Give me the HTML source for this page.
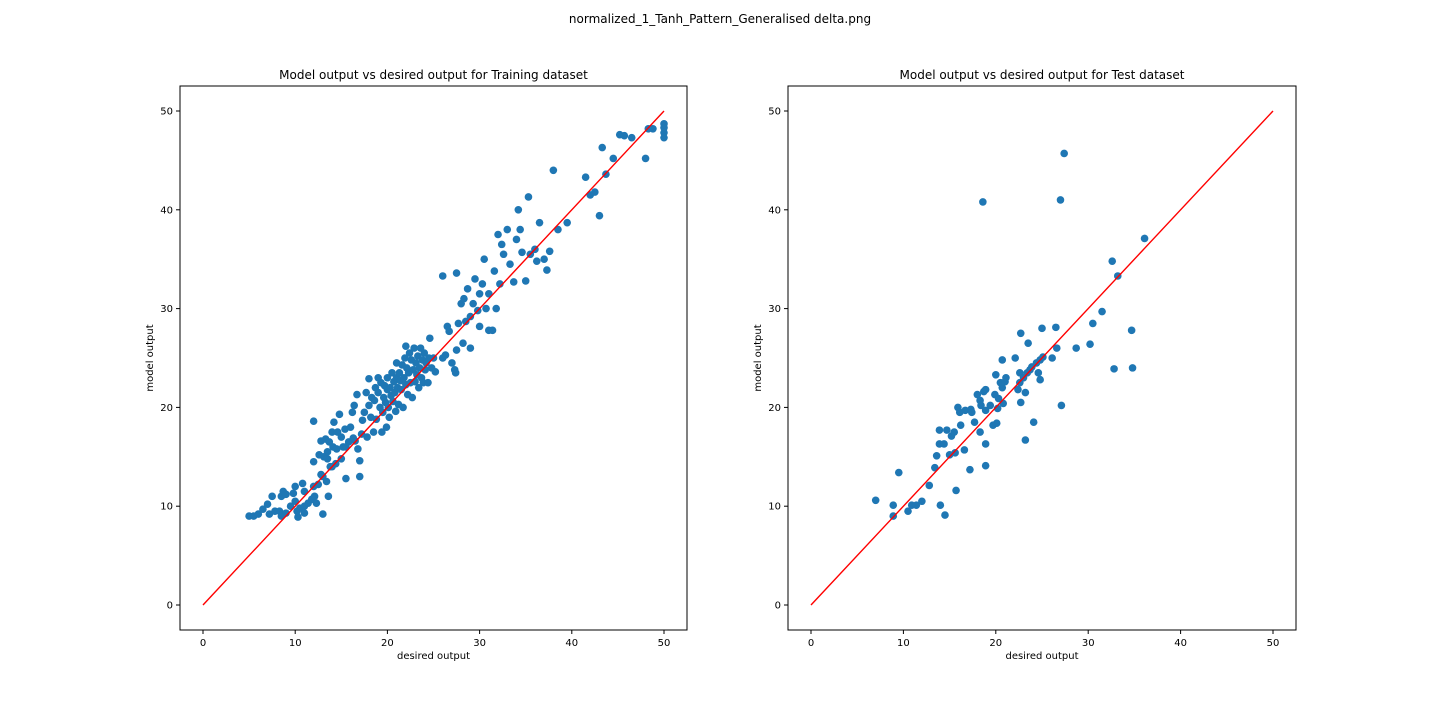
<!DOCTYPE html>
<html><head><meta charset="utf-8"><style>
body{margin:0;background:#fff;}
svg{display:block;font-family:"DejaVu Sans","Liberation Sans",sans-serif;}
</style></head><body>
<svg id="fig" width="1440" height="720" viewBox="0 0 1440 720">
<rect width="1440" height="720" fill="#fff"/>
<text x="720" y="23" font-size="12" text-anchor="middle">normalized_1_Tanh_Pattern_Generalised delta.png</text>
</svg>
<script>
const trainPoints=[[5,9],[5.5,9],[6,9.2],[6.5,9.7],[7,10.2],[7.2,9.2],[7.5,11],[7.8,9.5],[8.5,11],[8.7,11.5],[8.3,9.5],[8.6,9.2],[9,9.3],[9.5,10],[9.8,11.3],[10,12],[10.2,9.5],[10.3,8.9],[10.5,9.8],[10.8,12.3],[11,11.5],[11,9.3],[11.4,10.3],[11.8,10.7],[12,14.5],[12,18.6],[12.1,11],[12.3,10.3],[12.5,12.2],[12.6,15.2],[12.8,16.6],[13,13],[13,9.2],[13.1,15],[13.3,16.8],[13.4,12.5],[13.5,15.5],[13.6,11],[13.7,16.5],[13.8,14],[14,17.5],[14.1,16],[14.2,18.5],[14.4,14.3],[14.5,15.8],[14.6,17.5],[14.8,19.3],[15,14.8],[15.2,16],[15.4,17.8],[15.5,12.8],[15.8,16.5],[16,18],[16.2,19.5],[16.4,20.2],[16.5,16.6],[16.7,21.3],[16.8,15.8],[17,13],[17,14.6],[17.2,17.3],[17.3,18.7],[17.5,19.5],[17.7,21.5],[17.8,17],[18,20.2],[18,22.9],[18.2,19],[18.3,21],[18.5,17.5],[18.6,20.7],[18.7,22],[18.8,18.8],[19,21.5],[19,23],[19.2,20],[19.3,22.5],[19.4,17.5],[19.5,19.5],[19.6,21],[19.7,22.2],[19.8,20.5],[19.9,18],[20,21.8],[20,23],[20.1,20],[20.2,19],[20.3,22],[20.4,21.2],[20.5,23.5],[20.6,20.6],[20.7,22.6],[20.8,21.5],[20.9,19.6],[21,23],[21,24.5],[21.1,22],[21.2,20.3],[21.3,23.5],[21.4,22.7],[21.5,21.8],[21.6,24.3],[21.7,20],[21.8,23],[21.9,25],[22,22.3],[22,26.2],[22.1,24],[22.2,21.3],[22.3,23.5],[22.4,25.5],[22.5,22.5],[22.6,24.8],[22.7,21],[22.8,23.8],[22.9,26],[23,22.6],[23.1,24.5],[23.2,23.3],[23.3,25.2],[23.4,22],[23.5,24],[23.6,26],[23.7,23],[23.8,24.8],[23.9,22.5],[24,25.5],[24.1,23.8],[24.2,24.5],[24.4,22.5],[24.5,25],[24.6,27],[24.8,24],[25,25],[25.2,23.6],[26,25],[26.3,25.3],[26.5,28.2],[26.7,27.7],[27,24.5],[27.3,23.8],[27.4,23.5],[27.5,25.8],[27.7,28.5],[28,30.5],[28.2,26.5],[28.3,31],[28.5,28.7],[28.7,32],[29,29.2],[29,26],[29.3,30.5],[29.5,33],[29.8,29.8],[30,28.2],[30,31.5],[30.3,32.5],[30.5,35],[30.7,30],[31,31.5],[31,27.8],[31.4,27.8],[31.6,33.8],[31.8,30],[32,37.5],[32.2,32.5],[32.4,36.5],[32.6,35.5],[33,38],[33.3,34.5],[33.7,32.7],[34,37],[34.2,40],[34.4,38],[34.6,35.7],[35,32.8],[35.3,41.3],[35.5,35.5],[36,36],[36.2,34.8],[36.5,38.7],[37,35],[37.3,33.9],[37.6,35.8],[38,44],[38.5,38],[39.5,38.7],[41.5,43.3],[42,41.5],[42.5,41.8],[43,39.4],[43.3,46.3],[43.7,43.6],[44.5,45.2],[45.2,47.6],[45.7,47.5],[46.5,47.3],[48,45.2],[48.3,48.2],[48.8,48.2],[50,48.7],[50,48.3],[50,47.8],[50,47.3],[15.5,16],[15,17],[16.3,16.9],[14,14],[12,12],[9,11.2],[10,10.5],[26,33.3],[27.5,33.6],[8.5,9],[11,10],[12.8,13.2],[13.5,14.8]];
const testPoints=[[7,10.6],[8.9,10.1],[8.9,9],[9.5,13.4],[10.5,9.5],[10.9,10.1],[11.4,10.1],[12,10.5],[12.8,12.1],[13.4,13.9],[13.6,15.1],[13.9,17.7],[13.9,16.3],[14,10.1],[14.4,16.3],[14.5,9.1],[14.7,17.7],[15,15.2],[15.2,17.1],[15.5,17.5],[15.6,15.4],[15.7,11.6],[15.9,20],[16.1,19.5],[16.2,18.2],[16.7,19.7],[16.6,15.7],[17.2,13.7],[17.3,19.8],[17.4,19.5],[17.7,18.5],[18,21.3],[18.3,17.5],[18.3,20.7],[18.4,20.2],[18.6,40.8],[18.7,21.6],[18.9,21.8],[18.9,19.7],[18.9,16.3],[18.9,14.1],[19.4,20.2],[19.7,18.2],[19.9,21.3],[20,23.3],[20.1,18.4],[20.2,19.9],[20.3,20.9],[20.5,22.5],[20.7,22],[20.7,24.8],[20.8,20.4],[21,22.6],[21.1,23],[22.1,25],[22.4,21.8],[22.6,22.5],[22.6,23.5],[22.7,27.5],[22.7,20.5],[23,23],[23.2,21.5],[23.2,16.7],[23.4,23.5],[23.5,26.5],[23.7,23.8],[23.9,24.1],[24.1,18.5],[24.4,24.5],[24.6,23.5],[24.8,24.8],[24.8,22.8],[25,28],[25.1,25.1],[26.1,25],[26.5,28.1],[26.6,26],[27,41],[27.4,45.7],[27.1,20.2],[28.7,26],[30.2,26.4],[30.5,28.5],[31.5,29.7],[32.6,34.8],[32.8,23.9],[33.2,33.3],[34.7,27.8],[34.8,24],[36.1,37.1]];
const xTicks=[0,10,20,30,40,50];
const yTicks=[0,10,20,30,40,50];
const lineX=[0,50];

const svg=document.getElementById('fig');
const NS='http://www.w3.org/2000/svg';
function mk(t,a){const e=document.createElementNS(NS,t);for(const k in a)e.setAttribute(k,a[k]);svg.appendChild(e);return e;}
function panel(left,right,x0px,x50px,pts,title,key){
  const top=86,bottom=630;
  const sx=v=>x0px+(x50px-x0px)*v/50;
  const sy=v=>605-(605-111)*v/50;
  const t=mk('text',{x:(left+right)/2,y:79,'font-size':12,'text-anchor':'middle'});t.textContent=title;
  
  
  pts.forEach(p=>{const c=mk('circle',{cx:sx(p[0]),cy:sy(p[1]),r:3.8,fill:'#1f77b4'});
    
    });
  const l=mk('line',{x1:sx(lineX[0]),y1:sy(lineX[0]),x2:sx(lineX[1]),y2:sy(lineX[1]),stroke:'red','stroke-width':1.4});
  
  
  const r=mk('rect',{x:left,y:top,width:right-left,height:bottom-top,fill:'none',stroke:'#000','stroke-width':1});
  
  
  xTicks.forEach(v=>{const x=sx(v);mk('line',{x1:x,y1:bottom,x2:x,y2:bottom+4,stroke:'#000'});
    const tx=mk('text',{x:x,y:bottom+16,'font-size':10,'text-anchor':'middle'});tx.textContent=v;
    
    });
  yTicks.forEach(v=>{const y=sy(v);mk('line',{x1:left-4,y1:y,x2:left,y2:y,stroke:'#000'});
    const tx=mk('text',{x:left-7,y:y+3.5,'font-size':10,'text-anchor':'end'});tx.textContent=v;
    
    });
  const xl=mk('text',{x:(left+right)/2,y:659,'font-size':10,'text-anchor':'middle'});xl.textContent='desired output';
  
  
  const yl=mk('text',{x:0,y:0,'font-size':10,'text-anchor':'middle',transform:`translate(${left-27},${(top+bottom)/2}) rotate(-90)`});yl.textContent='model output';
  
  
}
panel(180,687,203,664,trainPoints,'Model output vs desired output for Training dataset','train');
panel(788,1296,811,1273,testPoints,'Model output vs desired output for Test dataset','test');
</script>
</body></html>
